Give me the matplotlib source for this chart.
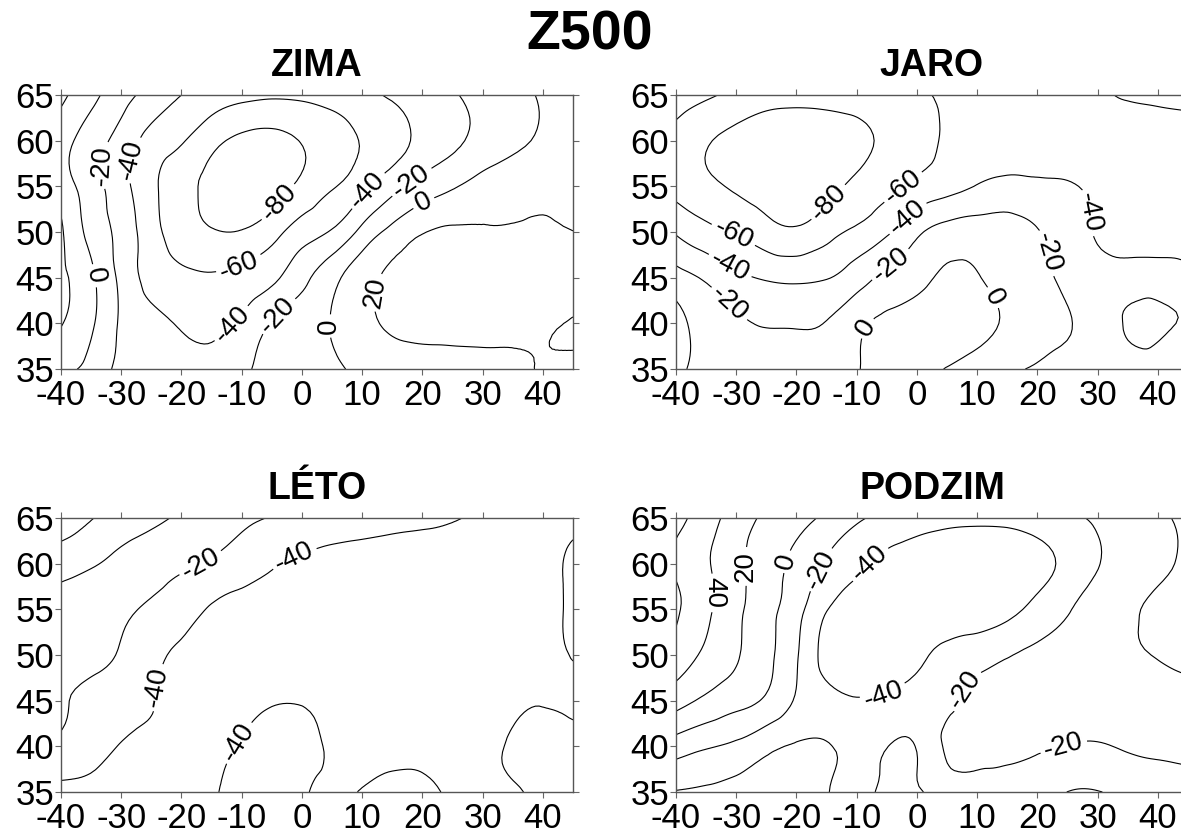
import numpy as np
import matplotlib
matplotlib.use("Agg")
import matplotlib.pyplot as plt
import matplotlib.tri as mtri

plt.rcParams['font.family'] = ['Liberation Sans', 'DejaVu Sans']
plt.rcParams['axes.unicode_minus'] = False
plt.rcParams['contour.negative_linestyle'] = 'solid'

# grid: longitude columns, latitude rows (north to south)
lon = np.arange(-40, 46, 5)
lat = np.array([65, 60, 55, 50, 45, 40, 35])

zima = np.array([
    [25, 5, -12, -27, -40, -48, -54, -57, -56, -52, -46, -37, -30, -22, -13, -6, 2, 8],
    [8, -10, -28, -47, -58, -74, -84, -86, -79, -70, -59, -49, -34, -24, -14, -5, 3, 8],
    [10, -10.5, -33, -55, -73, -85, -92, -90, -75, -62, -46, -27, -12, -2, 8, 14, 17, 16],
    [23, -6, -27, -52, -70, -78.5, -79, -68, -50, -38, -14, 6, 19, 23, 22, 21.5, 22, 20.2],
    [24, 4, -25, -47, -56, -58, -54, -44, -26, -6, 12, 24, 28, 29, 29, 29, 29, 28],
    [21, 3, -23, -35, -42, -45, -36, -19, -8, 1, 14, 23, 25, 25, 25, 24, 22, 19],
    [4, -6, -25, -32, -36, -34, -24, -14, -8, -3, 4, 10, 13, 14, 15, 17, 21, 24],
])

jaro = np.array([
    [-50, -57, -65, -72, -73, -72, -69, -65, -62, -57, -52, -49, -48, -50, -57, -61.5, -63, -64],
    [-67, -78, -86, -92, -94, -92, -86, -76, -68, -58, -55, -52, -50, -50, -52, -52, -53, -54],
    [-67, -75, -83, -90, -92, -87, -75, -66, -55, -47, -39, -34, -36, -38, -45, -49, -50, -50],
    [-42, -54, -62, -72, -77, -67, -56, -43, -24, -12, -10, -12, -19, -30, -42, -47, -48, -47],
    [-12, -23, -35, -42, -44, -41, -29, -15, -6, 3, 1, -7, -15, -24, -33, -36, -36, -38],
    [6, -8, -17, -21, -21.5, -19, -5, 4, 9, 12, 7, -3, -12, -19, -28, -42, -43, -38],
    [3, -5, -10, -14, -15, -12, -1, 5, 7, -1, -10, -17, -22, -28, -32, -35, -35, -33],
])

leto = np.array([
    [35, 21, 13, 5, -3, -10, -16, -21, -25, -28, -31, -34, -36, -39, -42, -44, -44, -43],
    [8, 2, -6, -12, -17, -22, -30, -38, -43, -46, -47, -48, -48, -47, -46, -45, -43, -38],
    [-8, -13, -17, -23, -31, -42, -47, -49, -50, -50, -50, -50, -50, -49, -48, -47, -45, -37],
    [-12, -15, -22, -34, -44, -48, -50, -51, -51, -51, -51, -51, -50, -50, -49, -47, -45, -39],
    [-18, -25, -31, -39, -45, -47, -44, -41, -41, -44, -46, -46, -47, -47, -46, -43, -41, -44],
    [-24, -32, -41, -43, -45, -44, -39, -35, -36, -42, -45, -44, -44, -45, -44, -38, -34, -32],
    [-47, -47, -46, -46, -45, -42, -33, -30, -38, -44, -39, -35, -37, -42, -44, -42, -36, -33],
])

podzim = np.array([
    [68, 48, 31, 16, 6, -4, -17, -25, -32, -35, -36, -35, -31, -24, -17, -9, -3, 4],
    [57, 42, 26, 8, -5, -22, -36, -45, -50, -53, -54, -53, -46, -35, -21, -11, -4, 3],
    [63, 44, 25, 7, -13, -39, -50, -56, -59, -58, -54, -46, -34, -22, -9, -3, 4, 7],
    [52, 36, 22, 5, -18, -48, -60, -56, -46, -33, -27, -21, -16, -11, -7, -3, 1, 5],
    [28, 16, 7, -3, -22, -33, -38, -37, -32, -25, -14, -12, -11, -11, -11, -10, -8, -6],
    [-10, -18, -24, -35, -42, -41.5, -34, -39.5, -39, -17, -15, -16, -18, -20.5, -21.5, -18, -16, -15],
    [-41, -43, -48, -50, -46, -41, -33, -45, -42, -32, -29, -28, -30, -40.2, -40.6, -36, -30, -27],
])

levels = np.arange(-100, 81, 20)
xticks = np.arange(-40, 41, 10)
yticks = np.arange(35, 66, 5)

# where the contour values are written (lon, lat)
zima_lbl = [(-32.4, 57.3), (-27.6, 57.8), (-34.5, 45.2), (-4.5, 53.6), (-10.8, 47.1),
            (-12.4, 40.4), (-3.9, 40.8), (5, 39.7), (13, 43.3), (10.7, 54.7),
            (18.3, 55.4), (20.2, 53.2)]
jaro_lbl = [(-14.9, 53.4), (-2.4, 55), (-1.8, 51.7), (-30.8, 49.3), (-31.1, 46.2),
            (-31.1, 42.2), (-4.9, 47), (-8.4, 39.5), (12.6, 42.8), (27.9, 52.1),
            (21.6, 47.7)]
leto_lbl = [(-16.8, 60), (-1.3, 60.7), (-23.5, 46.4), (-10.8, 40.5)]
podzim_lbl = [(-33.9, 56.8), (-28.3, 59.7), (-21.5, 60.2), (-15.8, 59.3), (-7.7, 59.9),
              (-6.2, 46.7), (8.5, 46), (24.4, 39.9)]

W, H = 1181, 833
fig = plt.figure(figsize=(W / 100, H / 100), dpi=100)


def panel(px, py, z, title, lbl):
    # px, py: left/top corner of the axes in pixels
    ax = fig.add_axes([px / W, 1 - (py + 274) / H, 512 / W, 274 / H])
    lo, la = np.meshgrid(lon, lat)
    tri = mtri.Triangulation(lo.ravel(), la.ravel())
    tri_f, z_f = mtri.UniformTriRefiner(tri).refine_field(z.ravel(), subdiv=3)
    cs = ax.tricontour(tri_f, z_f, levels=levels, colors='k', linewidths=0.8)
    ax.clabel(cs, fmt='%d', fontsize=20, inline_spacing=4, manual=lbl)
    ax.set_xlim(-40, 45)
    ax.set_ylim(35, 65)
    ax.set_xticks(xticks)
    ax.set_yticks(yticks)
    ax.tick_params(direction='out', length=4, width=0.8, color='#666666',
                   top=True, right=True, labelsize=25)
    ax.tick_params(axis='x', pad=3)
    ax.tick_params(axis='y', pad=1)
    for s in ax.spines.values():
        s.set_color('#555555')
        s.set_linewidth(1.0)
    ax.set_title(title, fontsize=27, fontweight='bold', pad=14)
    return ax


panel(61, 95, zima, 'ZIMA', zima_lbl)
panel(676, 95, jaro, 'JARO', jaro_lbl)
panel(61, 518, leto, 'LÉTO', leto_lbl)
panel(676, 518, podzim, 'PODZIM', podzim_lbl)

fig.text(590 / W, 1 - 36 / H, 'Z500', fontsize=40, fontweight='bold',
         ha='center', va='center')

fig.savefig('out.png', dpi=100)
